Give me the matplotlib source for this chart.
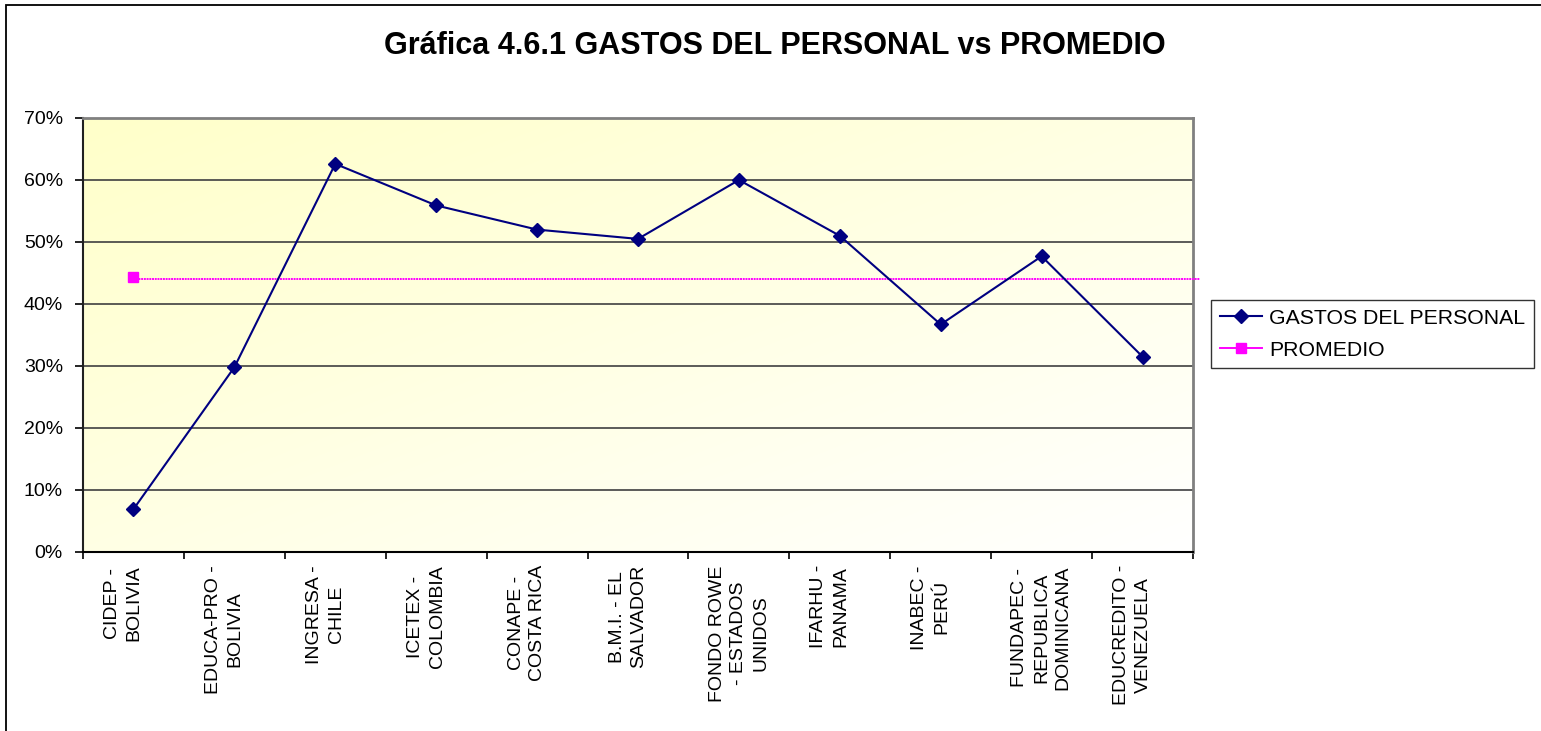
import numpy as np
import matplotlib
matplotlib.use('Agg')
import matplotlib.pyplot as plt
import matplotlib.transforms as mtransforms
from matplotlib.patches import Rectangle
from matplotlib.ticker import FuncFormatter

plt.rcParams['font.family'] = ['Liberation Sans', 'DejaVu Sans']

# Datos de la gráfica
categorias = ['CIDEP -\nBOLIVIA', 'EDUCA-PRO -\nBOLIVIA', 'INGRESA -\nCHILE',
              'ICETEX -\nCOLOMBIA', 'CONAPE -\nCOSTA RICA', 'B.M.I. - EL\nSALVADOR',
              'FONDO ROWE\n- ESTADOS\nUNIDOS', 'IFARHU -\nPANAMA', 'INABEC -\nPERÚ',
              'FUNDAPEC -\nREPUBLICA\nDOMINICANA', 'EDUCREDITO -\nVENEZUELA']
gastos_personal = [0.069, 0.298, 0.626, 0.559, 0.520, 0.505, 0.600, 0.510, 0.367, 0.477, 0.315]
promedio = 0.44
y_ticks = [0, 0.1, 0.2, 0.3, 0.4, 0.5, 0.6, 0.7]

W, H = 1541, 731
fig = plt.figure(figsize=(W / 100, H / 100), dpi=100)
fig.patch.set_facecolor('white')

# Marco del gráfico (solo se ven borde izquierdo y superior)
fig.patches.append(Rectangle((6 / W, -0.2), 1.2, 1 - 5 / H + 0.2, transform=fig.transFigure,
                             fill=False, edgecolor='black', linewidth=1.3))

ax = fig.add_axes([83 / W, (H - 552) / H, 1110 / W, 434 / H])

# Fondo degradado amarillo -> blanco
gx, gy = np.meshgrid(np.linspace(0, 1, 300), np.linspace(0, 1, 150))
t = np.clip((gx + gy) / 2.0, 0, 1)
grad = np.zeros((150, 300, 3))
grad[..., 0] = 1.0
grad[..., 1] = 1.0
grad[..., 2] = 0.79 + 0.21 * t
ax.imshow(grad, extent=[0, 1, 0, 1], transform=ax.transAxes, aspect='auto', zorder=0,
          interpolation='bilinear')

x = np.arange(len(categorias))

# Serie principal
ax.plot(x, gastos_personal, color='#000080', linewidth=1.5, marker='D', markersize=7.5,
        markerfacecolor='#000080', markeredgecolor='#000080', zorder=4,
        label='GASTOS DEL PERSONAL')

# Promedio: un punto y una línea horizontal
ax.hlines(promedio, x[0], x[-1] + 0.57, color='#FF00FF', linewidth=1.4, linestyle=(0, (1, 0.4)),
          clip_on=False, zorder=3)
ax.plot([x[0]], [promedio + 0.003], color='#FF00FF', linewidth=1.4, marker='s', markersize=7,
        markerfacecolor='#FF00FF', markeredgecolor='#FF00FF', zorder=5, label='PROMEDIO')

ax.set_xlim(-0.5, len(categorias) - 0.5)
ax.set_ylim(0, 0.7)

# Ejes y cuadrícula
ax.set_yticks(y_ticks)
ax.yaxis.set_major_formatter(FuncFormatter(lambda v, p: '%d%%' % round(v * 100)))
ax.tick_params(axis='y', direction='out', length=6, width=1.2, color='black', pad=8.5,
               labelsize=14)
ax.set_xticks(np.arange(len(categorias) + 1) - 0.5)
ax.set_xticklabels([])
ax.set_xticks(x, minor=True)
ax.set_xticklabels(categorias, minor=True, rotation=90, ha='center', va='top',
                   multialignment='center', fontsize=14, linespacing=1.36)
ax.tick_params(axis='x', which='major', direction='out', length=5, width=1.2, color='black')
ax.tick_params(axis='x', which='minor', length=0, pad=9.5)

# Desplazar a la izquierda las etiquetas de dos líneas (como Excel)
for lbl, cat in zip(ax.get_xticklabels(minor=True), categorias):
    if cat.count('\n') == 1:
        off = mtransforms.ScaledTranslation(-10 / 100, 0, fig.dpi_scale_trans)
        lbl.set_transform(lbl.get_transform() + off)

ax.grid(axis='y', color='#404040', linewidth=1.2, zorder=1)
ax.set_axisbelow(True)
ax.spines['left'].set_color('#202020')
ax.spines['left'].set_linewidth(1.5)
ax.spines['bottom'].set_color('black')
ax.spines['bottom'].set_linewidth(1.5)
ax.spines['top'].set_color('#808080')
ax.spines['top'].set_linewidth(2)
ax.spines['right'].set_color('#808080')
ax.spines['right'].set_linewidth(2)

# Título
fig.text(775 / W, 1 - 46 / H, 'Gráfica 4.6.1 GASTOS DEL PERSONAL vs PROMEDIO', ha='center',
         va='center', fontsize=22, fontweight='bold')

# Leyenda
leg = fig.legend(loc='upper left', bbox_to_anchor=(1211 / W, 1 - 300 / H), fontsize=15.3,
                 frameon=True, fancybox=False, shadow=False, edgecolor='black',
                 handlelength=2.0, handletextpad=0.33, borderpad=0.4, labelspacing=0.62,
                 borderaxespad=0, numpoints=1)
leg.get_frame().set_linewidth(1.0)

fig.savefig('out.png', dpi=100, facecolor='white')
